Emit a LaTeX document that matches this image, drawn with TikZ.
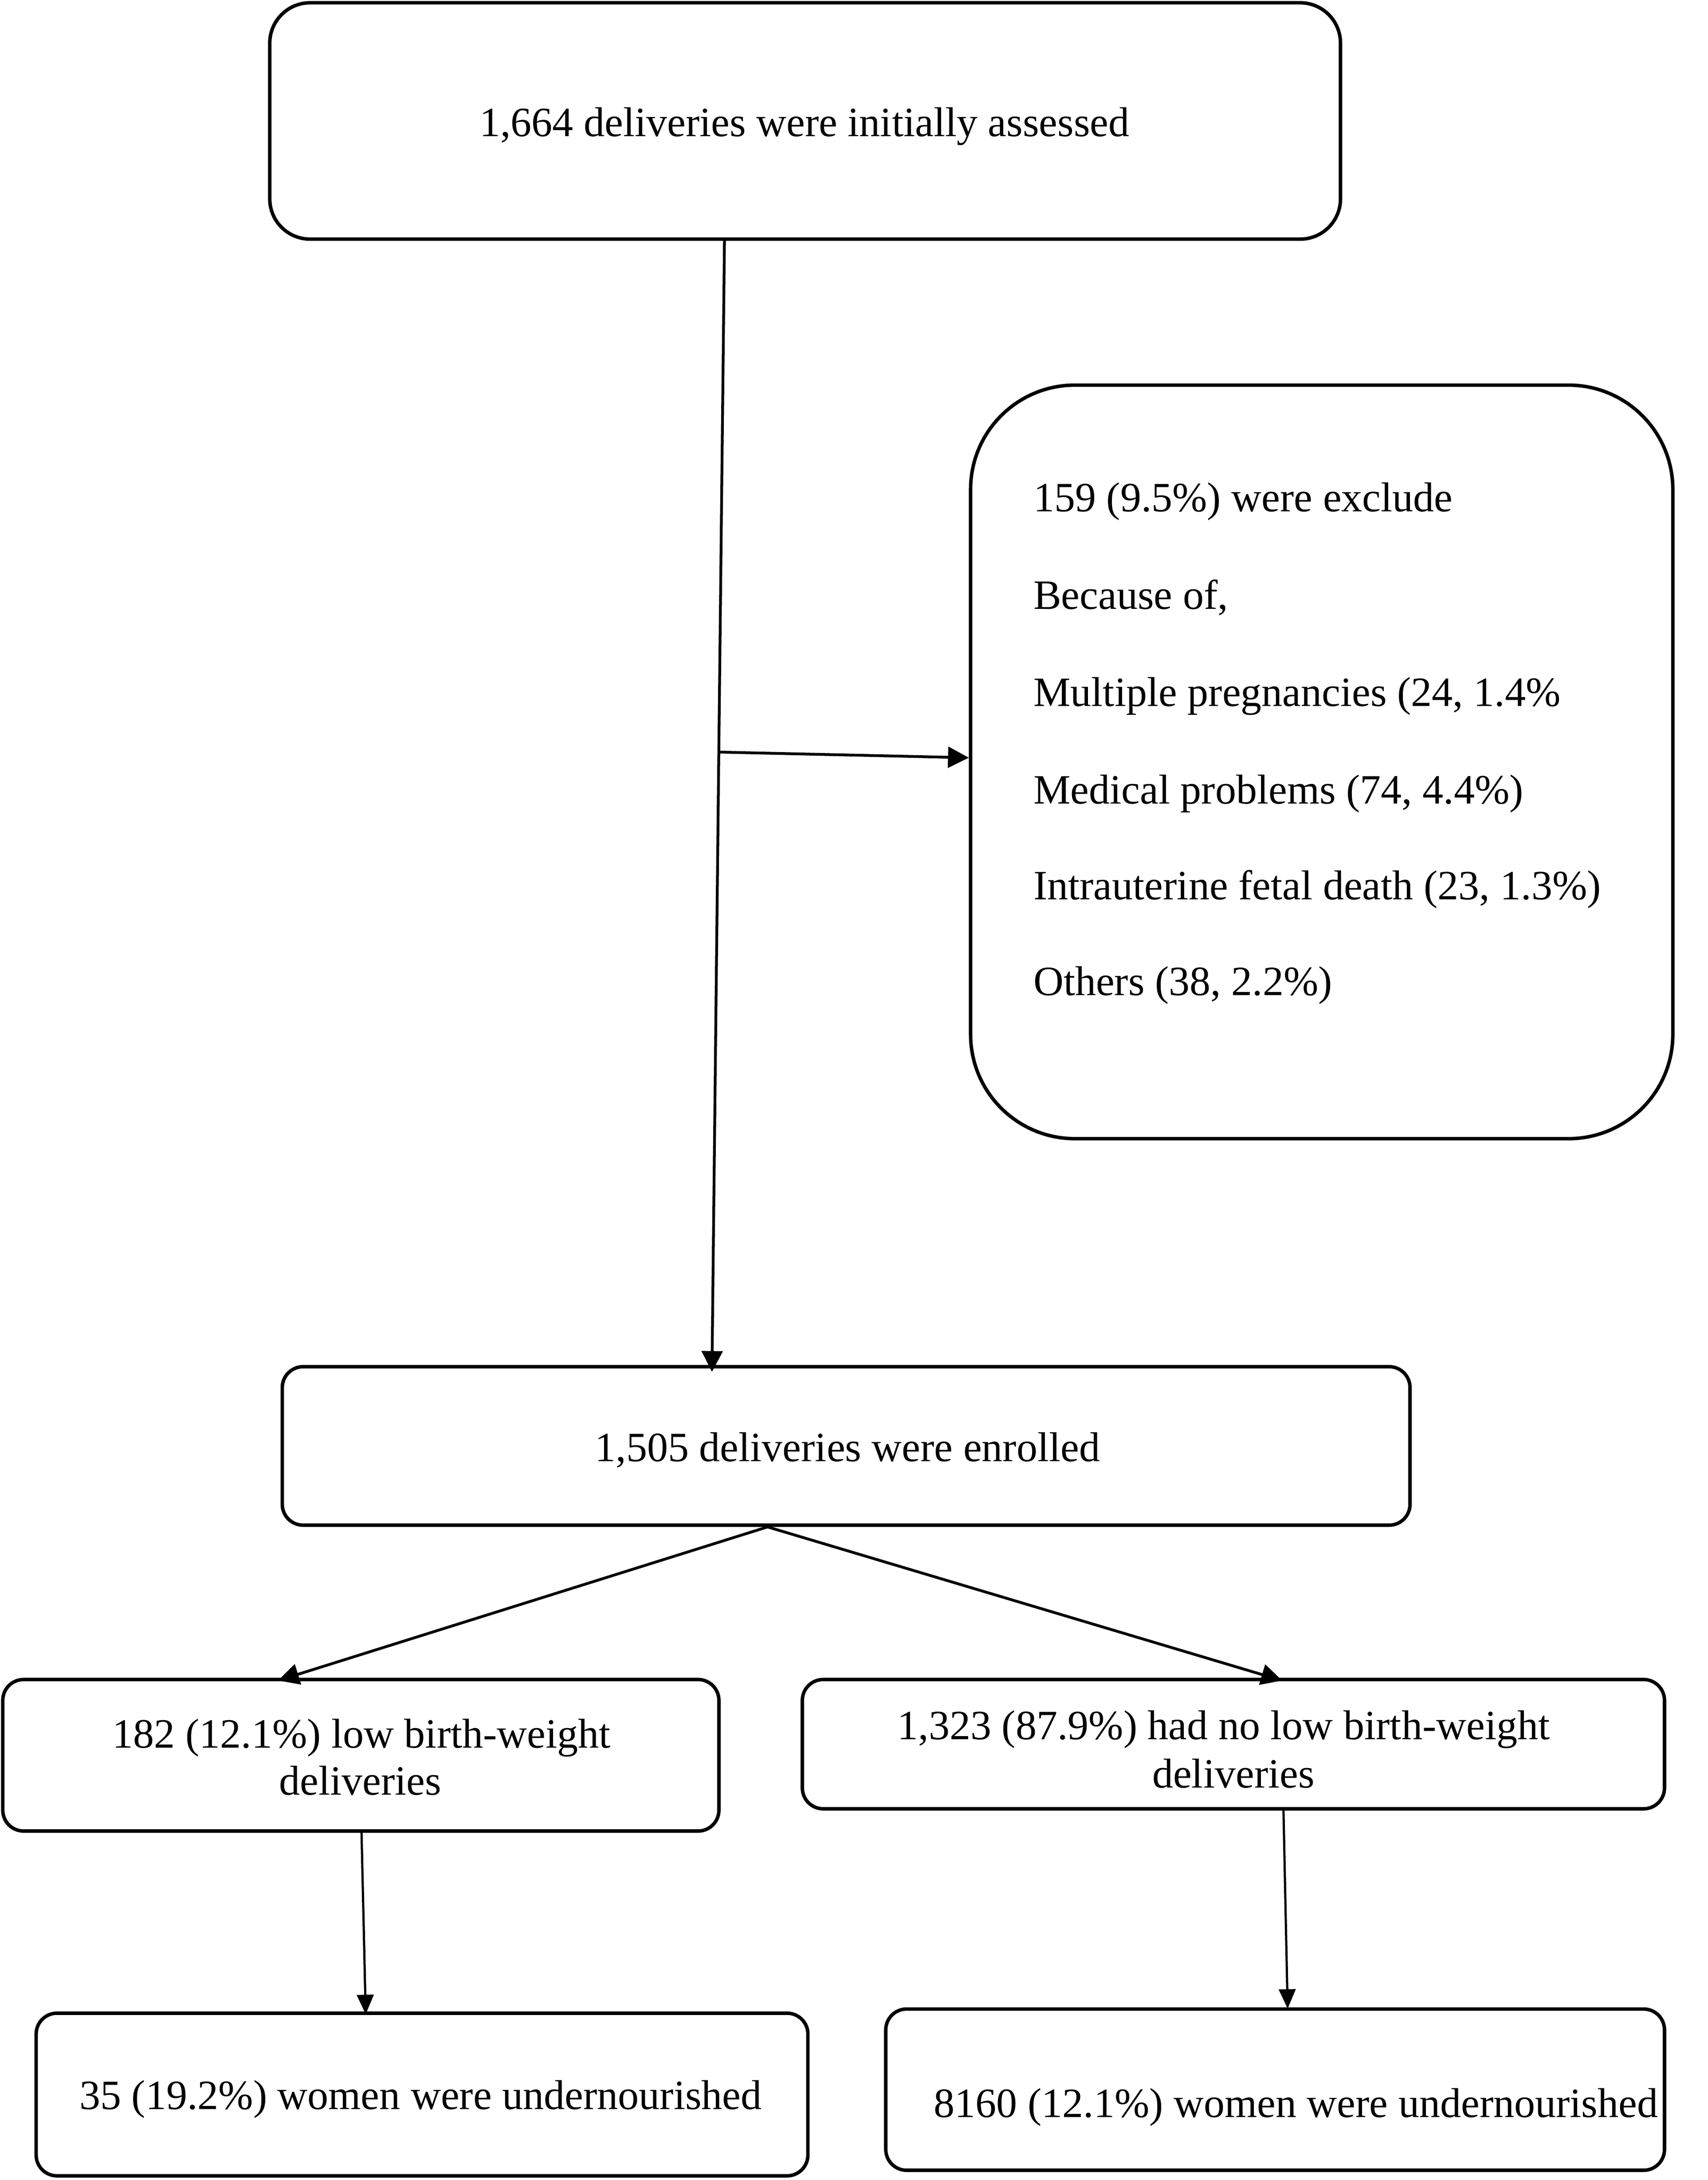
\documentclass[tikz,border=0pt]{standalone}
\usepackage{fontspec}
\setmainfont{Liberation Serif}
\usetikzlibrary{arrows.meta,calc}
\begin{document}
\begin{tikzpicture}[x=1pt,y=-1pt,
  box/.style={draw, line width=2.5pt, rectangle, inner sep=0pt},
  txt/.style={font=\fontsize{30}{36}\selectfont, inner sep=0pt},
  conn/.style={line width=2pt, -{Triangle[length=15pt,width=15pt]}},
  thinconn/.style={line width=1.6pt, -{Triangle[length=14pt,width=12pt]}}]
\useasboundingbox (0,0) rectangle (1228,1568);
% boxes
\node[box, rounded corners=29pt, minimum width=770pt, minimum height=170pt] (top) at (579,87) {};
\node[box, rounded corners=75pt, minimum width=505pt, minimum height=542pt] (excl) at (950.5,548) {};
\node[box, rounded corners=15pt, minimum width=811pt, minimum height=114pt] (enr) at (608.5,1040) {};
\node[box, rounded corners=15pt, minimum width=515pt, minimum height=109pt] (lbw) at (259.5,1262.5) {};
\node[box, rounded corners=15pt, minimum width=620pt, minimum height=93pt] (nolbw) at (887,1254.5) {};
\node[box, rounded corners=15pt, minimum width=555pt, minimum height=117pt] (bl) at (303.5,1506.5) {};
\node[box, rounded corners=15pt, minimum width=560pt, minimum height=116pt] (br) at (917,1503) {};
% texts
\node[txt, anchor=base] (t1) at (578.5,98) {1,664 deliveries were initially assessed};
\node[txt, anchor=base west] (ex1) at (743,368) {159 (9.5\%) were exclude};
\node[txt, anchor=base west] (ex2) at (743,438) {Because of,};
\node[txt, anchor=base west] (ex3) at (743,508) {Multiple pregnancies (24, 1.4\%};
\node[txt, anchor=base west] (ex4) at (743,578) {Medical problems (74, 4.4\%)};
\node[txt, anchor=base west] (ex5) at (743,647) {Intrauterine fetal death (23, 1.3\%)};
\node[txt, anchor=base west] (ex6) at (743,716) {Others (38, 2.2\%)};
\node[txt, anchor=base] (t3) at (609.5,1051) {1,505 deliveries were enrolled};
\node[txt, anchor=base] (t4a) at (260,1257) {182 (12.1\%) low birth-weight};
\node[txt, anchor=base] (t4b) at (259,1291) {deliveries};
\node[txt, anchor=base] (t5a) at (880,1251) {1,323 (87.9\%) had no low birth-weight};
\node[txt, anchor=base] (t5b) at (887,1286) {deliveries};
\node[txt, anchor=base] (t6) at (302.5,1517) {35 (19.2\%) women were undernourished};
\node[txt, anchor=base] (t7) at (932,1523) {8160 (12.1\%) women were undernourished};
% connectors
\coordinate (a1) at ([xshift=-58pt]top.south);
\coordinate (a2) at ([xshift=-96.5pt,yshift=-5pt]enr.north);
\draw[conn] (a1) -- (a2);
\coordinate (bp) at ($(a1)!0.452!(a2)$);
\draw[conn] (bp) -- ([yshift=3pt]excl.west);
\coordinate (d0) at ([xshift=-56.5pt]enr.south);
\draw[conn] (d0) -- ([xshift=-59.5pt,yshift=-2pt]lbw.north);
\draw[conn] (d0) -- ([xshift=35pt,yshift=-2pt]nolbw.north);
\draw[thinconn] ([xshift=0.5pt]lbw.south) -- ([xshift=-40.5pt,yshift=-2pt]bl.north);
\draw[thinconn] ([xshift=36pt]nolbw.south) -- ([xshift=9pt,yshift=-1pt]br.north);
\end{tikzpicture}
\end{document}
